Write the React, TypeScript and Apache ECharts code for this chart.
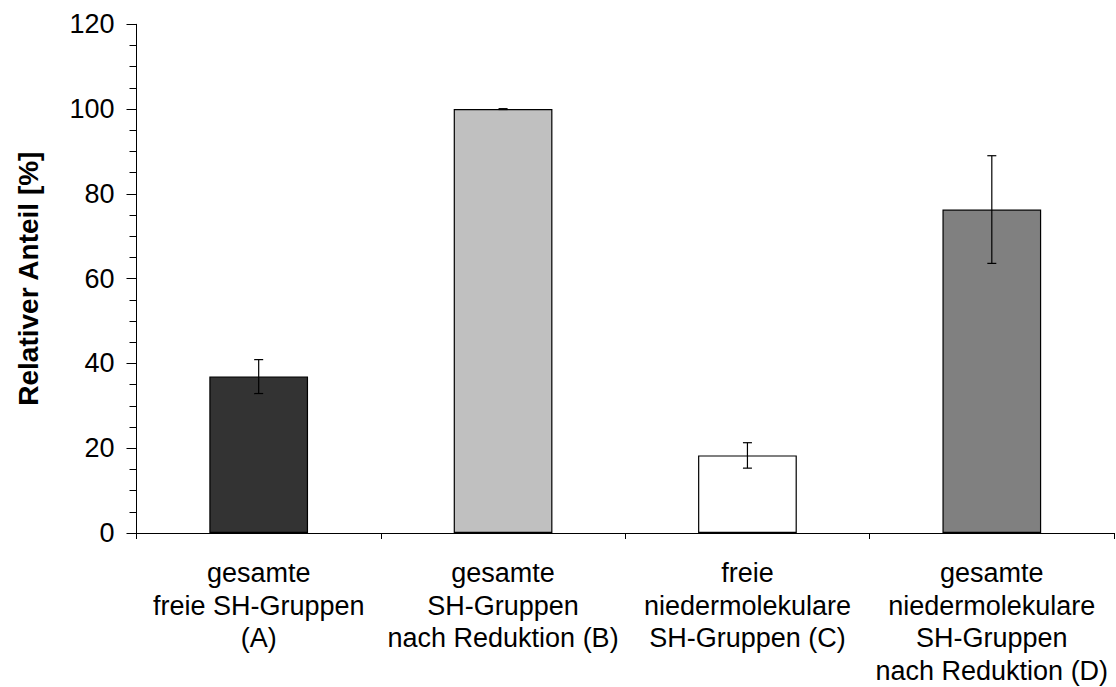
import React, { useEffect, useRef } from "react";
import * as echarts from "echarts";

const categories = [
  "gesamte\nfreie SH-Gruppen\n(A)",
  "gesamte\nSH-Gruppen\nnach Reduktion (B)",
  "freie\nniedermolekulare\nSH-Gruppen (C)",
  "gesamte\nniedermolekulare\nSH-Gruppen\nnach Reduktion (D)",
];
const values = [36.9, 100, 18.3, 76.3];
const errors = [4.0, 0.1, 3.0, 12.7];
const barColors = ["#333333", "#c0c0c0", "#ffffff", "#808080"];
const yTicks = { min: 0, max: 120, interval: 20 };
const yAxisTitle = "Relativer Anteil [%]";

const FONT = "'Liberation Sans', Arial, sans-serif";

export default function App() {
  const ref = useRef<HTMLDivElement>(null);
  useEffect(() => {
    if (!ref.current) return;
    const chart = echarts.init(ref.current, undefined, { renderer: "svg" });
    const errData = categories.map((_, i) => [i, values[i] - errors[i], values[i] + errors[i]]);
    chart.setOption({
      animation: false,
      backgroundColor: "#ffffff",
      textStyle: { fontFamily: FONT },
      grid: { left: 136.5, right: 2, top: 24.3, bottom: 153.7, containLabel: false },
      xAxis: {
        type: "category",
        data: categories,
        boundaryGap: true,
        axisLine: { show: true, lineStyle: { color: "#000", width: 1 } },
        axisTick: { show: true, length: 6, interval: 0, lineStyle: { color: "#000" } },
        axisLabel: {
          interval: 0,
          color: "#000",
          fontSize: 27,
          lineHeight: 32.5,
          fontFamily: FONT,
          margin: 24,
        },
        splitLine: { show: false },
      },
      yAxis: {
        type: "value",
        min: yTicks.min,
        max: yTicks.max,
        interval: yTicks.interval,
        name: yAxisTitle,
        nameLocation: "middle",
        nameGap: 94,
        nameTextStyle: { color: "#000", fontSize: 28, fontWeight: "bold", fontFamily: FONT },
        axisLine: { show: true, lineStyle: { color: "#000", width: 1 } },
        axisTick: { show: true, length: 10, lineStyle: { color: "#000" } },
        minorTick: { show: true, splitNumber: 4, length: 7, lineStyle: { color: "#000" } },
        axisLabel: { color: "#000", fontSize: 27, fontFamily: FONT, margin: 22 },
        splitLine: { show: false },
      },
      series: [
        {
          type: "bar",
          barWidth: "40.4%",
          data: values.map((v, i) => ({
            value: v,
            itemStyle: { color: barColors[i], borderColor: "#000", borderWidth: 1.2 },
          })),
          z: 2,
        },
        {
          type: "custom",
          data: errData,
          z: 5,
          renderItem: (params: any, api: any) => {
            const lo = api.coord([api.value(0), api.value(1)]);
            const hi = api.coord([api.value(0), api.value(2)]);
            const hw = 4.5;
            const st = { stroke: "#000", lineWidth: 1.2 };
            return {
              type: "group",
              children: [
                { type: "line", shape: { x1: lo[0], y1: lo[1], x2: hi[0], y2: hi[1] }, style: st },
                { type: "line", shape: { x1: lo[0] - hw, y1: lo[1], x2: lo[0] + hw, y2: lo[1] }, style: st },
                { type: "line", shape: { x1: hi[0] - hw, y1: hi[1], x2: hi[0] + hw, y2: hi[1] }, style: st },
              ],
            };
          },
        },
      ],
    });
    return () => chart.dispose();
  }, []);
  return (
    <div
      ref={ref}
      style={{ position: "absolute", left: 0, top: 0, width: 1116, height: 687, background: "#fff" }}
    />
  );
}
